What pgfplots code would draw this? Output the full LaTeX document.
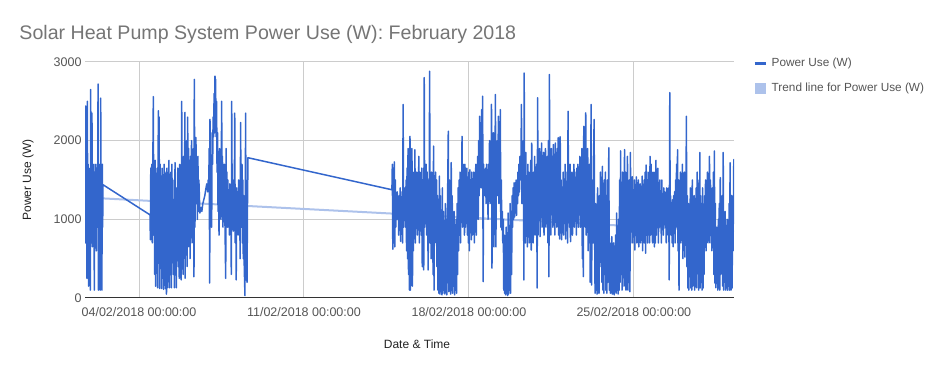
\documentclass[border=0pt]{standalone}
\usepackage{pgfplots}
\pgfplotsset{compat=1.18}
\usepackage{pgfplotstable}
\usepackage{fontspec}
\setmainfont{Liberation Sans}
\definecolor{mainblue}{HTML}{3366CC}
\definecolor{trendblue}{HTML}{ADC2EB}
\definecolor{titlegray}{HTML}{757575}
\definecolor{tickgray}{HTML}{555555}
\definecolor{labelgray}{HTML}{222222}
\definecolor{gridgray}{HTML}{CCCCCC}
\definecolor{basegray}{HTML}{333333}

% x = hours since 01/02/2018 00:00:00, w = power use (W)
\pgfplotstableread[row sep=\\]{
h w\\
17 1300\\ 17.4 700\\ 17.7 2440\\ 18 800\\ 18.5 1600\\ 19 250\\ 19.4 2500\\ 19.8 700\\ 20.2 1700\\ 20.6 150\\
21 1500\\ 21.5 800\\ 22 1650\\ 22.4 100\\ 22.8 2650\\ 23.2 700\\ 23.6 1700\\ 24.1 2350\\ 24.5 650\\ 25 1550\\
25.5 900\\ 26 1700\\ 26.5 100\\ 27 1600\\ 27.5 800\\ 28 1700\\ 28.5 600\\ 29 1650\\ 29.5 900\\ 30 1600\\
30.3 2720\\ 30.7 100\\ 31.2 1700\\ 31.6 600\\ 32 1650\\ 32.5 100\\ 33 2540\\ 33.4 800\\ 33.8 1600\\ 34.2 100\\
34.6 1700\\ 35 900\\ 35.3 1440\\
83.2 1057\\ 83.6 740\\ 84 1650\\ 84.5 900\\ 85 1700\\ 85.5 700\\ 86 1550\\ 86.6 2560\\ 87 800\\ 87.5 1600\\
88 300\\ 88.5 1750\\ 89 150\\ 89.5 1500\\ 90 800\\ 90.5 1650\\ 91 130\\ 91.7 2380\\ 92 600\\ 92.5 2300\\
93 120\\ 93.5 1700\\ 94 700\\ 94.5 1550\\ 95 120\\ 95.5 1650\\ 96 500\\ 96.5 1450\\ 97 110\\ 97.5 1700\\
98 900\\ 98.5 1500\\ 99 120\\ 99.5 1600\\ 100 50\\ 100.5 1650\\ 101 130\\ 101.5 1500\\ 102 700\\ 102.5 1750\\
103 130\\ 103.5 1400\\ 104 800\\ 104.5 1600\\ 105 130\\ 105.5 1700\\ 106 900\\ 106.5 1500\\ 107 300\\ 107.5 1250\\
108 130\\ 108.7 1720\\ 109 700\\ 109.5 1350\\ 110 130\\ 110.5 1400\\ 111 900\\ 111.5 1650\\ 112 400\\ 112.5 1500\\
113 250\\ 113.5 1700\\ 114 800\\ 114.5 1600\\ 115 230\\ 115.5 2500\\ 116 700\\ 116.5 1500\\ 117 300\\ 117.5 1800\\
118 900\\ 118.8 2360\\ 119 250\\ 119.5 1650\\ 120 800\\ 120.5 2000\\ 121 400\\ 121.6 2300\\ 122 650\\ 122.5 1900\\
123 1000\\ 123.5 1750\\ 124 500\\ 124.5 1800\\ 125 1100\\ 125.5 2000\\ 126 700\\ 126.5 1750\\ 127 1200\\ 127.5 1900\\
128 270\\ 128.3 2780\\ 129 900\\ 129.5 2000\\ 130 2040\\ 130.5 1200\\ 131 1700\\ 131.5 1000\\ 132 1800\\ 132.5 1100\\
133 1500\\ 134 1080\\ 135 1150\\ 136 1100\\ 137 1200\\ 138 1250\\ 139 1300\\ 140 1380\\ 141 1450\\ 142 1350\\
142.5 1500\\ 143 1400\\ 143.5 1900\\ 144 190\\ 144.3 2270\\ 145 1100\\ 145.5 1700\\ 146 900\\ 146.5 2100\\ 147 1700\\
147.5 2300\\ 148 2050\\ 148.5 2600\\ 149 2100\\ 149.4 2820\\ 149.8 2250\\ 150 2780\\ 150.5 2050\\ 151 2500\\ 151.5 1600\\
152 2100\\ 152.5 1100\\ 153 1800\\ 153.5 800\\ 154 1900\\ 154.5 1200\\ 155 1700\\ 155.5 1000\\ 156.2 2500\\ 156.6 1100\\
157 1800\\ 157.5 900\\ 158 1500\\ 158.5 1200\\ 159 1700\\ 159.5 1000\\ 160.3 250\\ 160.7 1900\\ 161 1050\\ 161.5 1600\\
162 900\\ 162.5 1500\\ 163 1100\\ 163.5 1350\\ 164 800\\ 164.5 1450\\ 165 1000\\ 165.5 1300\\ 166 300\\ 166.4 2500\\
167 1000\\ 167.5 1500\\ 168 850\\ 168.5 1400\\ 169 1100\\ 169.5 2350\\ 170 700\\ 170.5 1350\\ 171 230\\ 171.5 1400\\
172 1000\\ 172.5 1350\\ 173 800\\ 173.5 1500\\ 174 1100\\ 174.5 1350\\ 175 500\\ 175.5 2230\\ 176 900\\ 176.9 1700\\
177.3 700\\ 177.8 1500\\ 178.2 500\\ 178.7 1300\\ 179.2 400\\ 179.9 30\\ 180.6 2350\\ 181 600\\ 181.5 1300\\ 182 200\\
182.5 1200\\ 183 1783\\
329.6 1376\\ 330 1700\\ 330.5 620\\ 331 1600\\ 331.5 700\\ 332 1730\\ 332.5 650\\ 333 1500\\ 333.5 900\\ 334 1300\\
334.5 1000\\ 335 1350\\ 335.5 1050\\ 336 1250\\ 336.5 800\\ 337 1300\\ 337.5 1100\\ 338 1400\\ 338.5 720\\ 339 1200\\
339.5 1000\\ 340 1350\\ 340.5 700\\ 341 2460\\ 341.5 900\\ 342 1200\\ 342.5 1000\\ 343 1400\\ 343.5 900\\ 344 1500\\
344.5 600\\ 345 1650\\ 345.5 500\\ 346 1900\\ 346.5 300\\ 347 1300\\ 347.5 100\\ 348 2055\\ 348.5 100\\ 349 1700\\
349.5 200\\ 350 1900\\ 350.5 150\\ 351 1400\\ 351.5 600\\ 352 1600\\ 352.5 800\\ 353 1885\\ 353.5 700\\ 354 1500\\
354.5 900\\ 355 1600\\ 355.5 800\\ 356 1400\\ 356.5 1000\\ 357 1800\\ 357.5 700\\ 358 1600\\ 358.5 1000\\ 359 1450\\
359.5 800\\ 360 1650\\ 360.5 400\\ 361 1500\\ 361.5 900\\ 362 357\\ 362.5 2800\\ 363 900\\ 363.5 1500\\ 364 1000\\
364.5 1700\\ 365 800\\ 365.5 1600\\ 366 1100\\ 366.5 357\\ 367 1500\\ 367.5 900\\ 368 2883\\ 368.5 700\\ 369 1400\\
369.5 500\\ 370 1600\\ 370.5 900\\ 371 1400\\ 371.5 300\\ 372 1930\\ 372.5 100\\ 373 1450\\ 373.5 700\\ 374 1600\\
374.5 900\\ 375 1500\\ 375.5 400\\ 376 1300\\ 376.5 100\\ 377 1200\\ 377.5 60\\ 378 1550\\ 378.5 50\\ 379 1300\\
379.5 80\\ 380 900\\ 380.5 40\\ 381 1400\\ 381.5 60\\ 382 1100\\ 382.5 100\\ 383 700\\ 383.5 50\\ 384 1200\\
384.5 70\\ 385 1000\\ 385.5 40\\ 386 900\\ 387 2120\\ 387.5 80\\ 388 1500\\ 388.5 100\\ 389 1200\\ 389.5 50\\
390 1720\\ 390.5 100\\ 391 1300\\ 391.5 60\\ 392 900\\ 392.5 150\\ 393 1100\\ 393.5 40\\ 394 800\\ 394.5 100\\
395 1000\\ 395.5 60\\ 396 1200\\ 396.5 300\\ 397 1400\\ 397.5 600\\ 398 1500\\ 398.5 800\\ 399 1600\\ 399.5 700\\
400 1400\\ 400.5 1000\\ 401 2055\\ 401.5 900\\ 402 1700\\ 402.5 1000\\ 403 1600\\ 403.5 800\\ 404 1700\\ 404.5 900\\
405 1500\\ 405.5 1000\\ 406 1650\\ 406.5 800\\ 407 1400\\ 407.5 700\\ 408 1600\\ 408.5 600\\ 409 1630\\ 409.5 900\\
410 1500\\ 410.5 740\\ 411 1600\\ 411.5 800\\ 412 1350\\ 412.5 1000\\ 413 1600\\ 413.5 700\\ 414 1450\\ 414.5 900\\
415 1700\\ 415.5 800\\ 416 1500\\ 416.5 1100\\ 417 1800\\ 417.5 1000\\ 418 2000\\ 418.5 1300\\ 419 2310\\ 419.5 1500\\
420 2200\\ 420.5 1400\\ 421 2395\\ 421.5 1600\\ 422 2565\\ 422.5 208\\ 423 1700\\ 423.5 1300\\ 424 1630\\ 424.5 1350\\
425 1650\\ 425.5 1200\\ 426 1700\\ 426.5 1335\\ 427 1600\\ 427.5 1000\\ 428 1700\\ 428.5 1300\\ 429 2000\\ 429.5 1200\\
430 1800\\ 430.5 1300\\ 431 2460\\ 431.5 380\\ 432 1700\\ 432.5 1400\\ 433 2100\\ 433.5 650\\ 434 1900\\ 434.5 1400\\
435 2586\\ 435.5 650\\ 436 1800\\ 436.5 1500\\ 437 2000\\ 437.5 1300\\ 438 2310\\ 438.5 1200\\ 439 1900\\ 439.5 1400\\
440 2395\\ 440.5 900\\ 441 1500\\ 441.5 866\\ 442 1100\\ 442.5 700\\ 443 1000\\ 443.5 100\\ 444 800\\ 444.5 60\\
445 700\\ 445.5 40\\ 446 900\\ 446.5 60\\ 447 600\\ 447.5 30\\ 448 1080\\ 448.5 50\\ 449 900\\ 449.5 100\\
450 1200\\ 450.5 60\\ 451 1100\\ 451.5 300\\ 452 1300\\ 452.5 900\\ 453 1400\\ 453.5 1000\\ 454 1465\\ 454.5 1030\\
455 1400\\ 455.5 1100\\ 456 1500\\ 456.5 1050\\ 457 1450\\ 457.5 1200\\ 458 1600\\ 458.5 1300\\ 459 1700\\ 459.5 1350\\
460 1800\\ 460.5 1500\\ 461 1650\\ 461.5 2460\\ 462 1200\\ 462.5 1700\\ 463 1400\\ 463.5 2000\\ 464 230\\ 464.3 2860\\
464.8 1100\\ 465 1600\\ 465.5 700\\ 466 1850\\ 466.5 800\\ 467 1500\\ 467.5 650\\ 468 1700\\ 468.5 900\\ 469 1600\\
469.5 700\\ 470 1400\\ 470.5 1000\\ 471 1750\\ 471.5 610\\ 472 1970\\ 472.5 900\\ 473 1500\\ 473.5 700\\ 474 1600\\
474.5 1000\\ 475 1800\\ 475.5 800\\ 476 1500\\ 476.5 1100\\ 477 1700\\ 477.5 127\\ 478 2545\\ 478.5 800\\ 479 1700\\
479.5 1000\\ 480 1900\\ 480.5 780\\ 481 1600\\ 481.5 1100\\ 482 1970\\ 482.5 900\\ 483 1700\\ 483.5 1200\\ 484 1850\\
484.5 800\\ 485 1600\\ 485.5 1000\\ 486 1900\\ 486.5 900\\ 487 1750\\ 487.5 1100\\ 488 1800\\ 488.5 700\\ 489 2000\\
489.5 270\\ 490 2840\\ 490.5 1000\\ 491 1700\\ 491.5 800\\ 492 1900\\ 492.5 1100\\ 493 1800\\ 493.5 900\\ 494 1950\\
494.5 1000\\ 495 1700\\ 495.5 800\\ 496 1970\\ 496.5 1100\\ 497 1800\\ 497.5 900\\ 498 1900\\ 498.5 1000\\ 499 2040\\
499.5 800\\ 500 1800\\ 500.5 750\\ 501 2050\\ 501.5 900\\ 502 1500\\ 502.5 740\\ 503 1400\\ 503.5 900\\ 504 1600\\
504.5 800\\ 505 1500\\ 505.5 1000\\ 506 1700\\ 506.5 750\\ 507 1400\\ 507.5 1000\\ 508 1600\\ 508.5 700\\ 509 2373\\
509.5 1200\\ 510 1500\\ 510.5 900\\ 511 1700\\ 511.5 717\\ 512 1300\\ 512.5 1000\\ 513 1600\\ 513.5 800\\ 514 1500\\
514.5 1000\\ 515 1700\\ 515.5 900\\ 516 1600\\ 516.5 1100\\ 517 1500\\ 517.5 800\\ 518 1650\\ 518.5 1000\\ 519 1700\\
519.5 900\\ 520 1500\\ 520.5 1200\\ 521 1800\\ 521.5 900\\ 522 1600\\ 522.5 1100\\ 523 1900\\ 523.5 500\\ 524 1700\\
524.5 271\\ 525 2182\\ 525.5 1000\\ 526 1800\\ 526.5 900\\ 527 2352\\ 527.5 800\\ 528 1700\\ 528.5 1000\\ 529 1900\\
529.5 600\\ 530 1600\\ 530.5 900\\ 531 1700\\ 531.5 200\\ 532 1600\\ 532.5 2460\\ 533 165\\ 533.5 1500\\ 534 1400\\
534.5 700\\ 535 1600\\ 535.5 2270\\ 536 900\\ 536.5 60\\ 537 1200\\ 537.5 100\\ 538 900\\ 538.5 50\\ 539 1400\\
539.5 150\\ 540 1100\\ 540.5 60\\ 541 1300\\ 541.5 400\\ 542 1600\\ 542.5 600\\ 543 1400\\ 543.5 200\\ 544 1673\\
544.5 100\\ 545 1200\\ 545.5 60\\ 546 1500\\ 546.5 300\\ 547 1600\\ 547.5 100\\ 548 1300\\ 548.5 60\\ 549 1500\\
549.5 200\\ 550 1000\\ 550.5 1910\\ 551 100\\ 551.5 700\\ 552 60\\ 552.5 500\\ 553 150\\ 553.5 780\\ 554 50\\
554.5 600\\ 555 100\\ 555.5 700\\ 556 40\\ 556.5 500\\ 557 120\\ 557.5 800\\ 558 60\\ 558.5 1080\\ 559 100\\
559.5 600\\ 560 50\\ 560.5 1000\\ 561 100\\ 561.5 1500\\ 562 200\\ 562.5 1870\\ 563 600\\ 563.5 1400\\ 564 100\\
564.5 1600\\ 565 900\\ 565.5 1500\\ 566 150\\ 566.5 1885\\ 567 800\\ 567.5 1600\\ 568 100\\ 568.5 1400\\ 569 700\\
569.5 1800\\ 570 100\\ 570.5 1300\\ 571 900\\ 571.5 1500\\ 572 80\\ 572.5 1850\\ 573 700\\ 573.5 1400\\ 574 1000\\
574.5 1540\\ 575 700\\ 575.5 1300\\ 576 900\\ 576.5 1500\\ 577 610\\ 577.5 1400\\ 578 800\\ 578.5 1540\\ 579 700\\
579.5 1300\\ 580 900\\ 580.5 1500\\ 581 650\\ 581.5 1400\\ 582 800\\ 582.5 1450\\ 583 700\\ 583.5 1300\\ 584 900\\
584.5 1550\\ 585 600\\ 585.5 1400\\ 586 800\\ 586.5 1500\\ 587 700\\ 587.5 1600\\ 588 570\\ 588.5 1690\\ 589 800\\
589.5 1500\\ 590 700\\ 590.5 1600\\ 591 900\\ 591.5 1400\\ 592 700\\ 592.5 1800\\ 593 800\\ 593.5 1700\\ 594 900\\
594.5 1500\\ 595 700\\ 595.5 1600\\ 596 800\\ 596.5 1400\\ 597 650\\ 597.5 1600\\ 598 700\\ 598.5 1750\\ 599 800\\
599.5 1500\\ 600 1000\\ 600.5 1650\\ 601 700\\ 601.5 1400\\ 602 900\\ 602.5 1500\\ 603 1000\\ 603.5 1300\\ 604 700\\
604.5 1500\\ 605 900\\ 605.5 1300\\ 606 800\\ 606.5 1400\\ 607 1000\\ 607.5 1350\\ 608 900\\ 608.5 1200\\ 609 700\\
609.5 1400\\ 610 900\\ 610.5 1300\\ 611 800\\ 611.5 1400\\ 612 230\\ 612.6 2610\\ 613 1000\\ 613.5 1300\\ 614 800\\
614.5 1200\\ 615 700\\ 615.5 1250\\ 616 650\\ 616.5 1300\\ 617 900\\ 617.5 1350\\ 618 700\\ 618.5 1500\\ 619 900\\
619.5 1700\\ 620 1000\\ 620.5 1885\\ 621 600\\ 621.5 1500\\ 622 100\\ 622.5 1200\\ 623 800\\ 623.5 1600\\ 624 700\\
624.5 1500\\ 625 900\\ 625.5 1700\\ 626 500\\ 626.5 1400\\ 627 800\\ 627.5 1600\\ 628 520\\ 628.5 1300\\ 629 900\\
629.5 2310\\ 630 400\\ 630.5 1300\\ 631 127\\ 631.5 1200\\ 632 100\\ 632.5 1000\\ 633 300\\ 633.5 1400\\ 634 127\\
634.5 1100\\ 635 100\\ 635.5 1500\\ 636 150\\ 636.5 1200\\ 637 500\\ 637.5 1300\\ 638 100\\ 638.5 1000\\ 639 300\\
639.5 1400\\ 640 130\\ 640.5 1600\\ 641 600\\ 641.5 1400\\ 642 100\\ 642.5 1500\\ 643 200\\ 643.2 1850\\ 643.5 127\\
644 1300\\ 644.5 200\\ 645 1200\\ 645.5 100\\ 646 1400\\ 646.5 127\\ 647 1100\\ 647.5 300\\ 648 1300\\ 648.5 700\\
649 1500\\ 649.5 600\\ 650 1400\\ 650.5 800\\ 651 1600\\ 651.5 700\\ 652 1300\\ 652.5 900\\ 653 1800\\ 653.5 700\\
654 1500\\ 654.5 1000\\ 655 1300\\ 655.5 600\\ 656 1400\\ 656.5 800\\ 657 1600\\ 657.5 300\\ 658 1870\\ 658.5 190\\
659 1200\\ 659.5 130\\ 660 900\\ 660.5 190\\ 661 800\\ 661.5 100\\ 662 1000\\ 662.5 130\\ 663 1200\\ 663.5 100\\
664 1530\\ 664.5 300\\ 665 1000\\ 665.5 600\\ 666 1300\\ 666.5 150\\ 667 1850\\ 667.5 100\\ 668 900\\ 668.5 600\\
669 1100\\ 669.5 100\\ 670 800\\ 670.5 130\\ 671 1000\\ 671.5 100\\ 672 900\\ 672.5 150\\ 673 1200\\ 673.5 100\\
674 1720\\ 674.5 600\\ 675 100\\ 675.5 1300\\ 676 127\\ 676.5 800\\ 677 600\\ 677.8 1760\\
}\powerdata

\pgfplotstableread[row sep=\\]{
h w\\
17 1278\\
678 845\\
}\trenddata

\begin{document}
\begin{tikzpicture}
\useasboundingbox (0,0) rectangle (946pt,371pt);
\begin{axis}[
  at={(85pt,73pt)}, anchor=south west,
  scale only axis, width=649pt, height=236pt,
  xmin=17, xmax=678, ymin=0, ymax=3000,
  xtick={72,240,408,576},
  xticklabels={04/02/2018 00:00:00, 11/02/2018 00:00:00, 18/02/2018 00:00:00, 25/02/2018 00:00:00},
  ytick={0,1000,2000,3000},
  scaled y ticks=false,
  /pgf/number format/1000 sep={},
  /pgf/number format/assume math mode=true,
  major tick length=0pt,
  grid=major,
  major grid style={gridgray, line width=1pt},
  axis line style={draw=none},
  tick label style={font=\fontsize{12.5}{14}\selectfont, text=tickgray},
  xticklabel style={yshift=-6pt},
  yticklabel style={xshift=0pt},
  xlabel={Date \& Time},
  ylabel={Power Use (W)},
  label style={font=\fontsize{12}{14}\selectfont, text=labelgray},
  xlabel style={at={(axis description cs:0.5116,-0.195)}, anchor=center},
  ylabel style={at={(axis description cs:-0.0878,0.5)}, anchor=center},
  title={Solar Heat Pump System Power Use (W): February 2018},
  title style={at={(axis description cs:-0.1064,1.093)}, anchor=west, font=\fontsize{19.6}{22}\selectfont, text=titlegray},
  legend style={at={(axis description cs:1.0293,1.026)}, anchor=north west, draw=none, fill=none,
    font=\fontsize{11.8}{14}\selectfont, text=tickgray, row sep=11pt, inner sep=0pt},
  legend cell align=left,
]
\addplot[trendblue, line width=2pt, forget plot] table[x=h, y=w]{\trenddata};
\addplot[mainblue, line width=1.5pt, line join=round, line cap=round,
  legend image code/.code={\draw[mainblue, line width=3pt, line cap=butt] (0pt,0pt) -- (11pt,0pt); \path[draw=none, fill=none] (0pt,0pt) -- (15pt,0pt);}]
  table[x=h, y=w]{\powerdata};
\addlegendentry{Power Use (W)}
\addlegendimage{legend image code/.code={\fill[trendblue, draw=none] (0pt,-5.5pt) rectangle (11pt,5.5pt); \path[draw=none, fill=none] (0pt,0pt) -- (15pt,0pt);}}
\addlegendentry{Trend line for Power Use (W)}
\draw[basegray, line width=1.3pt] (axis cs:17,0) -- (axis cs:678,0);
\end{axis}
\end{tikzpicture}
\end{document}
